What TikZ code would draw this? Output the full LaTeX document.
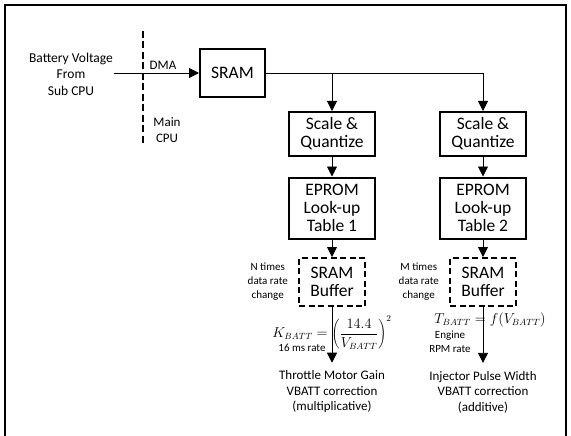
\documentclass[tikz,border=0pt]{standalone}
\usepackage{fontspec}
\setmainfont{Carlito}
\usetikzlibrary{positioning, arrows.meta}
\tikzstyle{block} = [rectangle, draw=black, line width=2pt, minimum width=86pt, minimum height=44pt, inner sep=1pt, align=center, font=\fontsize{17.5}{18}\selectfont]
\tikzstyle{buffer} = [block, dash pattern=on 6pt off 3.5pt, minimum width=66pt, minimum height=48pt]
\tikzstyle{note} = [align=center, inner sep=1pt, font=\fontsize{11}{14}\selectfont]
\tikzstyle{txt} = [align=center, inner sep=1pt, font=\fontsize{13}{15.5}\selectfont]
\tikzstyle{arrow} = [line width=0.8pt, -{Triangle[length=10pt, width=10pt]}]
\tikzstyle{divider} = [line width=2.2pt, dash pattern=on 7pt off 3.5pt]

\begin{document}
\begin{tikzpicture}[x=1pt, y=-1pt, node distance=74pt]
                \useasboundingbox (0,0) rectangle (571,436);
                \draw [line width=2pt] (4.5,436) -- (4.5,5) -- (566,5) -- (566,436);

% ---------------------------------------------
% Input side
% ---------------------------------------------
                \node (batt) [txt, font=\fontsize{13.5}{16.5}\selectfont] at (71,74) {Battery Voltage\\From\\Sub CPU};
                \coordinate (divtop) at (143,31);
                \coordinate (divbot) at (143,145);
                \draw [divider] (divtop) -- (divbot);
                \node (dma) [txt] at (163,65) {DMA};
                \node (maincpu) [txt] at (167,130) {Main\\CPU};

                \node (sram) [block, minimum width=65pt, minimum height=48pt] at (232.5,73) {SRAM};

                \draw [arrow] (batt.east |- sram) -- (sram);

% ---------------------------------------------
% Left column
% ---------------------------------------------
                \node (scale1) [block] at (332,134) {Scale \&\\Quantize};
                \node (eprom1) [block, below of = scale1, minimum height=61pt] {EPROM\\Look-up\\Table 1};
                \node (buf1) [buffer, below of = eprom1] {SRAM\\Buffer};
                \node (nrate) [note, left=9pt of buf1] {N times\\data rate\\change};
                \node (kform) [txt, font=\fontsize{13.5}{15.5}\selectfont, node distance=51pt, below of = buf1] {$K_{BATT}=\left(\displaystyle\frac{14.4}{V_{BATT}}\right)^{2}$};
                \node (msrate) [note] at (302,348) {16 ms rate};
                \node (throttle) [txt, node distance=110pt, below of = buf1] {Throttle Motor Gain\\VBATT correction\\(multiplicative)};

% ---------------------------------------------
% Right column
% ---------------------------------------------
                \node (scale2) [block, node distance=151pt, right of = scale1] {Scale \&\\Quantize};
                \node (eprom2) [block, below of = scale2, minimum height=61pt] {EPROM\\Look-up\\Table 2};
                \node (buf2) [buffer, below of = eprom2] {SRAM\\Buffer};
                \node (mrate) [note, left=9pt of buf2] {M times\\data rate\\change};
                \node (tform) [txt, font=\fontsize{13.5}{15.5}\selectfont, node distance=38pt, below of = buf2, xshift=7pt] {$T_{BATT}=f(V_{BATT})$};
                \node (rpmrate) [note] at (450,342) {Engine\\RPM rate};
                \node (injector) [txt, node distance=110pt, below of = buf2] {Injector Pulse Width\\VBATT correction\\(additive)};

% ---------------------------------------------
% All arrows
% ---------------------------------------------
                \draw [arrow] (sram.east) -| (scale1.north);
                \draw [arrow] (sram.east) -| (scale2.north);
                \draw [arrow] (scale1) -- (eprom1);
                \draw [arrow] (eprom1) -- (buf1);
                \draw [arrow, shorten >=7pt] (buf1) -- (throttle);
                \draw [arrow] (scale2) -- (eprom2);
                \draw [arrow] (eprom2) -- (buf2);
                \draw [arrow, shorten >=7pt] (buf2) -- (injector);
\end{tikzpicture}
\end{document}
